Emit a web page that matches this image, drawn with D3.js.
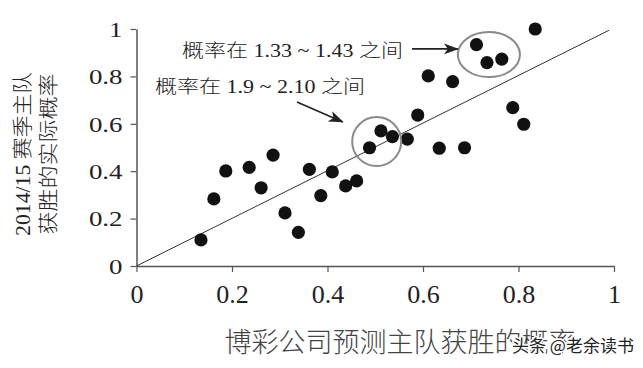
<!DOCTYPE html>
<html lang="zh">
<head>
  <meta charset="UTF-8">
  <title>Bookmaker odds vs actual</title>
  <style>
    body { margin: 0; background: #fff; }
  </style>
</head>
<body>
  <svg id="svg" width="643" height="368"></svg>

  <script src="https://d3js.org/d3.v7.min.js"></script>
  <script>
    // bookmaker predicted probability (x) vs actual home-win rate 2014/15 (y)
    const predicted = [0.135, 0.162, 0.187, 0.236, 0.261, 0.286, 0.311, 0.339, 0.362, 0.386,
      0.410, 0.438, 0.461, 0.488, 0.512, 0.536, 0.567, 0.589, 0.611, 0.634,
      0.662, 0.687, 0.712, 0.734, 0.765, 0.788, 0.811, 0.835]
    const actual = [0.110, 0.283, 0.401, 0.416, 0.330, 0.468, 0.224, 0.142, 0.408, 0.297,
      0.397, 0.338, 0.359, 0.499, 0.570, 0.546, 0.535, 0.637, 0.802, 0.497,
      0.778, 0.499, 0.934, 0.858, 0.873, 0.668, 0.598, 1.000]
    const tickValues = [0, 0.2, 0.4, 0.6, 0.8, 1]
    const tickLabels = ['0', '0.2', '0.4', '0.6', '0.8', '1']
    const xTitle = '博彩公司预测主队获胜的概率'
    const yTitle = ['2014/15 赛季主队', '获胜的实际概率']
    const noteTexts = ['概率在 1.33 ~ 1.43 之间', '概率在 1.9 ~ 2.10 之间']

    const points = predicted.map((d, i) => ({ x: d, y: actual[i] }))

    const serif = '"Liberation Serif", "Noto Sans CJK SC", serif'
    const svg = d3.select('#svg')

    const x = d3.scaleLinear().domain([0, 1]).range([136.5, 614])
    const y = d3.scaleLinear().domain([0, 1]).range([266, 29])

    svg.append('defs').append('marker')
      .attr('id', 'head')
      .attr('markerUnits', 'userSpaceOnUse')
      .attr('viewBox', '0 -6 16 12')
      .attr('refX', 14).attr('refY', 0)
      .attr('markerWidth', 16).attr('markerHeight', 12)
      .attr('orient', 'auto')
      .append('path')
      .attr('d', 'M0,-5.5L15,0L0,5.5L4,0Z')
      .attr('fill', '#222')

    // axes
    const xAxis = svg.append('g')
      .attr('transform', `translate(0,${y(0)})`)
      .call(d3.axisBottom(x).tickValues(tickValues).tickFormat((d, i) => tickLabels[i])
        .tickSize(6).tickSizeOuter(0))
    xAxis.select('.domain').attr('stroke', '#555').attr('stroke-width', 1.5)
    xAxis.selectAll('.tick line').attr('stroke', '#555').attr('stroke-width', 1.2)
    xAxis.selectAll('.tick text')
      .attr('y', 0).attr('dy', 37)
      .attr('font-family', serif).attr('font-size', 26).attr('fill', '#222')

    const yAxis = svg.append('g')
      .attr('transform', `translate(${x(0)},0)`)
      .call(d3.axisLeft(y).tickValues(tickValues).tickFormat((d, i) => tickLabels[i])
        .tickSize(6).tickSizeOuter(0))
    yAxis.select('.domain').attr('stroke', '#555').attr('stroke-width', 1.5)
    yAxis.selectAll('.tick line').attr('stroke', '#555').attr('stroke-width', 1.2)
    yAxis.selectAll('.tick text')
      .attr('x', -11.2).attr('dy', '0.34em')
      .attr('transform', 'scale(1.25,1)')
      .attr('font-family', serif).attr('font-size', 21.5).attr('fill', '#222')

    // 45 degree reference line
    svg.append('line')
      .attr('x1', x(0)).attr('y1', y(0))
      .attr('x2', x(0.99)).attr('y2', y(0.995))
      .attr('stroke', '#333').attr('stroke-width', 1)

    svg.append('g').selectAll('circle')
      .data(points)
      .enter()
      .append('circle')
      .attr('cx', d => x(d.x))
      .attr('cy', d => y(d.y))
      .attr('r', 6.6)
      .attr('fill', '#111')

    // highlighted groups
    const rings = [
      { cx: 0.503, cy: 0.525, rx: 0.0513, ry: 0.1034 },
      { cx: 0.738, cy: 0.892, rx: 0.065, ry: 0.095 }
    ]
    svg.append('g').selectAll('ellipse')
      .data(rings)
      .enter()
      .append('ellipse')
      .attr('cx', d => x(d.cx))
      .attr('cy', d => y(d.cy))
      .attr('rx', d => x(d.rx) - x(0))
      .attr('ry', d => y(0) - y(d.ry))
      .attr('fill', 'none')
      .attr('stroke', '#8a8a8a')
      .attr('stroke-width', 2)

    const arrows = [
      { x1: 0.577, y1: 0.916, x2: 0.673, y2: 0.916 },
      { x1: 0.336, y1: 0.692, x2: 0.432, y2: 0.608 }
    ]
    svg.append('g').selectAll('line')
      .data(arrows)
      .enter()
      .append('line')
      .attr('x1', d => x(d.x1)).attr('y1', d => y(d.y1))
      .attr('x2', d => x(d.x2)).attr('y2', d => y(d.y2))
      .attr('stroke', '#222').attr('stroke-width', 1.6)
      .attr('marker-end', 'url(#head)')

    // annotation labels, stretched a little wider like the print
    const notes = [
      { x: 0.0953, y: 0.882, w: 221 },
      { x: 0.0387, y: 0.730, w: 210 }
    ]
    svg.append('g').selectAll('text')
      .data(notes)
      .enter()
      .append('text')
      .attr('x', d => x(d.x))
      .attr('y', d => y(d.y))
      .attr('font-family', serif)
      .attr('font-size', 18)
      .attr('font-weight', 300)
      .attr('fill', '#222')
      .attr('textLength', d => d.w)
      .attr('lengthAdjust', 'spacingAndGlyphs')
      .text((d, i) => noteTexts[i])

    svg.append('text')
      .attr('x', 400).attr('y', 352)
      .attr('text-anchor', 'middle')
      .attr('font-family', serif)
      .attr('font-size', 27)
      .attr('font-weight', 300)
      .attr('fill', '#444')
      .text(xTitle)

    const yt = svg.append('g').attr('transform', 'translate(0,154) rotate(-90)')
    yt.selectAll('text')
      .data(yTitle)
      .enter()
      .append('text')
      .attr('x', 0)
      .attr('y', (d, i) => 30 + i * 26)
      .attr('text-anchor', 'middle')
      .attr('font-family', serif)
      .attr('font-size', 20)
      .attr('font-weight', 300)
      .attr('fill', '#222')
      .attr('textLength', (d, i) => i === 0 ? 164 : 161)
      .attr('lengthAdjust', 'spacingAndGlyphs')
      .text(d => d)

    // watermark
    svg.append('text')
      .attr('x', 512).attr('y', 352)
      .attr('font-family', '"Noto Sans CJK SC", sans-serif')
      .attr('font-size', 17)
      .attr('fill', '#222')
      .attr('stroke', '#fff').attr('stroke-width', 3)
      .attr('paint-order', 'stroke')
      .text('头条 @老余读书')
  </script>
</body>
</html>
